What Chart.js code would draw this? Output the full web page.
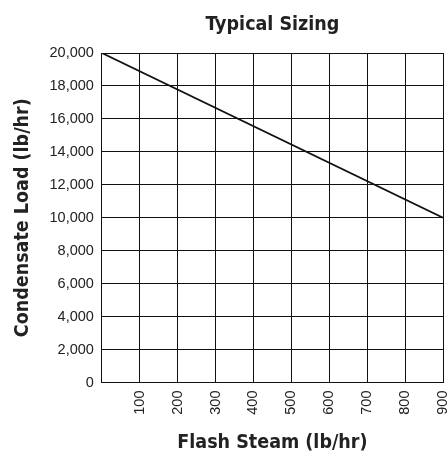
<!DOCTYPE html>
<html>
<head>
<meta charset="utf-8">
<script src="https://cdn.jsdelivr.net/npm/chart.js@4"></script>
<style>
  body { margin: 0; background: #fff; }
  #wrap { width: 448px; height: 453px; }
</style>
</head>
<body>
<div id="wrap"><canvas id="sizingChart"></canvas></div>
<script>
// data
const flashSteam = [0, 900];          // lb/hr
const condensateLoad = [20000, 10000]; // lb/hr
const xTickValues = [0, 100, 200, 300, 400, 500, 600, 700, 800, 900];
const yTickValues = [0, 2000, 4000, 6000, 8000, 10000, 12000, 14000, 16000, 18000, 20000];

const titleFont = "'Liberation Sans Narrow', 'DejaVu Sans Condensed', sans-serif";
const tickFont = "'Liberation Sans', Arial, sans-serif";

const ctx = document.getElementById("sizingChart").getContext("2d");
new Chart(ctx, {
  type: "line",
  data: {
    datasets: [{
      data: flashSteam.map((x, i) => ({ x: x, y: condensateLoad[i] })),
      borderColor: "#111",
      borderWidth: 1.8,
      pointRadius: 0,
      fill: false
    }]
  },
  options: {
    responsive: true,
    maintainAspectRatio: false,
    animation: false,
    layout: { padding: { left: 0, right: 5, top: 0, bottom: 0 } },
    plugins: {
      legend: { display: false },
      tooltip: { enabled: false },
      title: {
        display: true,
        fullSize: false,
        text: "Typical Sizing",
        color: "#222",
        font: { family: titleFont, size: 19.5, weight: "bold", lineHeight: 1 },
        padding: { top: 14.75, bottom: 18.75 }
      }
    },
    scales: {
      x: {
        type: "linear",
        min: 0,
        max: 900,
        afterBuildTicks: s => { s.ticks = xTickValues.map(v => ({ value: v })); },
        afterFit: s => { s.paddingRight = 0; s.paddingLeft = 0; },
        ticks: {
          minRotation: 90,
          maxRotation: 90,
          padding: 8,
          color: "#222",
          font: { family: tickFont, size: 14.5 },
          callback: v => (v === 0 ? "" : String(v))
        },
        grid: { color: "#111", lineWidth: 1, drawTicks: false },
        border: { color: "#111", width: 1 },
        title: {
          display: true,
          text: "Flash Steam (lb/hr)",
          color: "#222",
          font: { family: titleFont, size: 19.5, weight: "bold", lineHeight: 1 },
          padding: { top: 10.8, bottom: 0 }
        }
      },
      y: {
        type: "linear",
        min: 0,
        max: 20000,
        afterBuildTicks: s => { s.ticks = yTickValues.map(v => ({ value: v })); },
        ticks: {
          padding: 8,
          color: "#222",
          font: { family: tickFont, size: 14.5 },
          callback: v => v.toLocaleString("en-US")
        },
        grid: { color: "#111", lineWidth: 1, drawTicks: false },
        border: { color: "#111", width: 1 },
        title: {
          display: true,
          text: "Condensate Load (lb/hr)",
          color: "#222",
          font: { family: titleFont, size: 19.5, weight: "bold", lineHeight: 1 },
          padding: { top: 13.25, bottom: 8.75 }
        }
      }
    }
  }
});
</script>
</body>
</html>
